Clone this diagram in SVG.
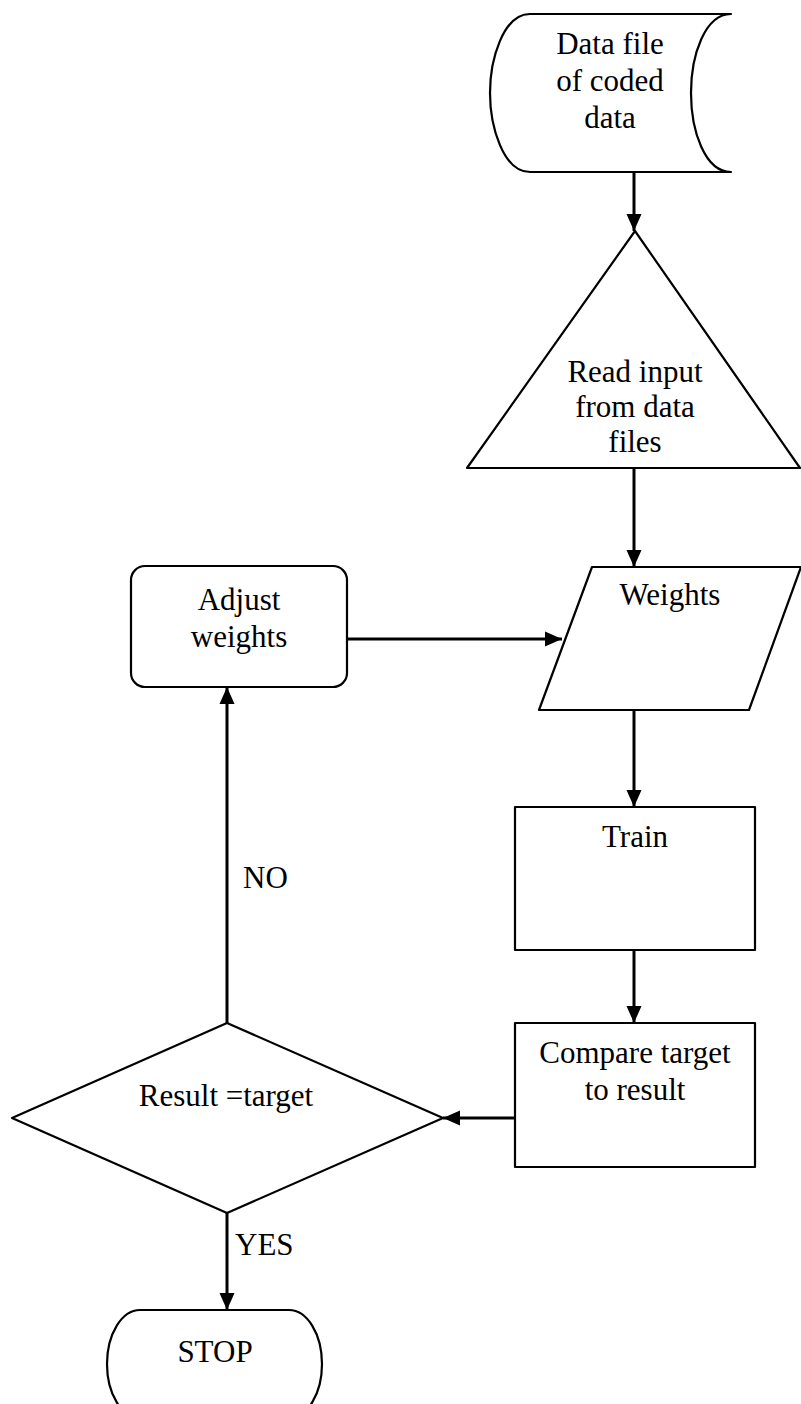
<svg xmlns="http://www.w3.org/2000/svg" width="801" height="1404" viewBox="0 0 801 1404">
  <style>
    .shape { fill: #ffffff; stroke: #000000; stroke-width: 2.2; stroke-linejoin: round; }
    .conn { fill: none; stroke: #000000; stroke-width: 3; }
    .label { font-family: "Liberation Serif", "Times New Roman", serif; font-size: 31px; fill: #000000; }
    .mid { text-anchor: middle; }
  </style>
  <defs>
    <marker id="arrow" markerUnits="userSpaceOnUse" markerWidth="17" markerHeight="16" viewBox="0 0 17 16" refX="17" refY="8" orient="auto">
      <path d="M0,0.5 L17,8 L0,15.5 Z" fill="#000000"/>
    </marker>
  </defs>
  <rect width="801" height="1404" fill="#ffffff"/>

  <!-- connectors -->
  <g id="connectors">
    <line class="conn" x1="634" y1="172" x2="634" y2="231" marker-end="url(#arrow)"/>
    <line class="conn" x1="634" y1="468" x2="634" y2="567" marker-end="url(#arrow)"/>
    <line class="conn" x1="347" y1="639" x2="562" y2="639" marker-end="url(#arrow)"/>
    <line class="conn" x1="634" y1="710" x2="634" y2="807" marker-end="url(#arrow)"/>
    <line class="conn" x1="634" y1="950" x2="634" y2="1023" marker-end="url(#arrow)"/>
    <line class="conn" x1="515" y1="1118" x2="443" y2="1118" marker-end="url(#arrow)"/>
    <line class="conn" x1="227" y1="1023" x2="227" y2="687" marker-end="url(#arrow)"/>
    <line class="conn" x1="227" y1="1213" x2="227" y2="1310" marker-end="url(#arrow)"/>
    <text class="label" x="243" y="888">NO</text>
    <text class="label" x="235" y="1255">YES</text>
  </g>

  <!-- stored data source -->
  <g id="data-file">
    <path class="shape" d="M530,14 H731 C705,14 691,55 691,93 C691,131 705,172 731,172 H530 C503,172 490,126 490,93 C490,60 503,14 530,14 Z"/>
    <text class="label mid" x="610" y="54">Data file</text>
    <text class="label mid" x="610" y="91">of coded</text>
    <text class="label mid" x="610" y="128">data</text>
  </g>

  <!-- read step -->
  <g id="read-input">
    <polygon class="shape" points="635,231 800,468 467,468"/>
    <text class="label mid" x="635" y="382">Read input</text>
    <text class="label mid" x="635" y="417">from data</text>
    <text class="label mid" x="635" y="452">files</text>
  </g>

  <!-- weights input/output -->
  <g id="weights">
    <polygon class="shape" points="592,567 801,567 749,710 539,710"/>
    <text class="label mid" x="670" y="605">Weights</text>
  </g>

  <!-- adjust weights -->
  <g id="adjust-weights">
    <rect class="shape" x="131" y="566" width="216" height="121" rx="14" ry="14"/>
    <text class="label mid" x="239" y="610">Adjust</text>
    <text class="label mid" x="239" y="647">weights</text>
  </g>

  <!-- train -->
  <g id="train">
    <rect class="shape" x="515" y="807" width="240" height="143"/>
    <text class="label mid" x="635" y="847">Train</text>
  </g>

  <!-- compare -->
  <g id="compare">
    <rect class="shape" x="515" y="1023" width="240" height="144"/>
    <text class="label mid" x="635" y="1063">Compare target</text>
    <text class="label mid" x="635" y="1100">to result</text>
  </g>

  <!-- decision -->
  <g id="decision">
    <polygon class="shape" points="227,1023 443,1118 227,1213 12,1118"/>
    <text class="label mid" x="226" y="1106">Result =target</text>
  </g>

  <!-- terminator -->
  <g id="stop">
    <path class="shape" d="M140,1310 H289 A33,54 0 0 1 289,1418 H140 A33,54 0 0 1 140,1310 Z"/>
    <text class="label mid" x="215" y="1362">STOP</text>
  </g>
</svg>
